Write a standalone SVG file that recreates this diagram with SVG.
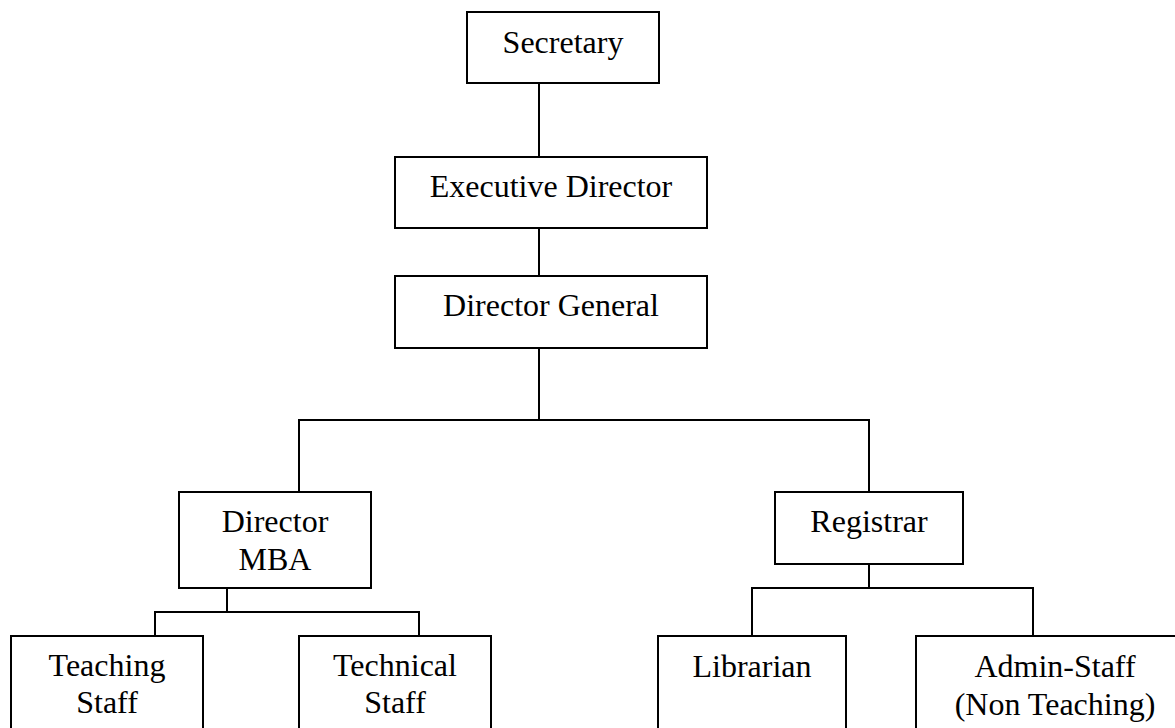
<svg xmlns="http://www.w3.org/2000/svg" width="1175" height="728" viewBox="0 0 1175 728">
<style>
.box{fill:#fff;stroke:#000;stroke-width:2}
.ln{fill:none;stroke:#000;stroke-width:2}
text{font-family:"Liberation Serif","Times New Roman",serif;font-size:32px;fill:#000;text-anchor:middle}
</style>
<rect width="1175" height="728" fill="#fff"/>
<g id="connectors">
<path class="ln" d="M539 83V157"/>
<path class="ln" d="M539 228V276"/>
<path class="ln" d="M539 348V420M299 492V420H869V492"/>
<path class="ln" d="M227 588V612M155 636V612H419V636"/>
<path class="ln" d="M869 564V588M752 636V588H1033V636"/>
</g>
<g id="secretary"><rect class="box" x="467" y="12" width="192" height="71"/><text x="563" y="53">Secretary</text></g>
<g id="executive-director"><rect class="box" x="395" y="157" width="312" height="71"/><text x="551" y="197">Executive Director</text></g>
<g id="director-general"><rect class="box" x="395" y="276" width="312" height="72"/><text x="551" y="316">Director General</text></g>
<g id="director-mba"><rect class="box" x="179" y="492" width="192" height="96"/><text x="275" y="532">Director</text><text x="275" y="570">MBA</text></g>
<g id="registrar"><rect class="box" x="775" y="492" width="188" height="72"/><text x="869" y="532">Registrar</text></g>
<g id="teaching-staff"><rect class="box" x="11" y="636" width="192" height="110"/><text x="107" y="676">Teaching</text><text x="107" y="713">Staff</text></g>
<g id="technical-staff"><rect class="box" x="299" y="636" width="192" height="110"/><text x="395" y="676">Technical</text><text x="395" y="713">Staff</text></g>
<g id="librarian"><rect class="box" x="658" y="636" width="188" height="110"/><text x="752" y="677">Librarian</text></g>
<g id="admin-staff"><rect class="box" x="916" y="636" width="280" height="110"/><text x="1055" y="677">Admin-Staff</text><text x="1055" y="715">(Non Teaching)</text></g>
</svg>
